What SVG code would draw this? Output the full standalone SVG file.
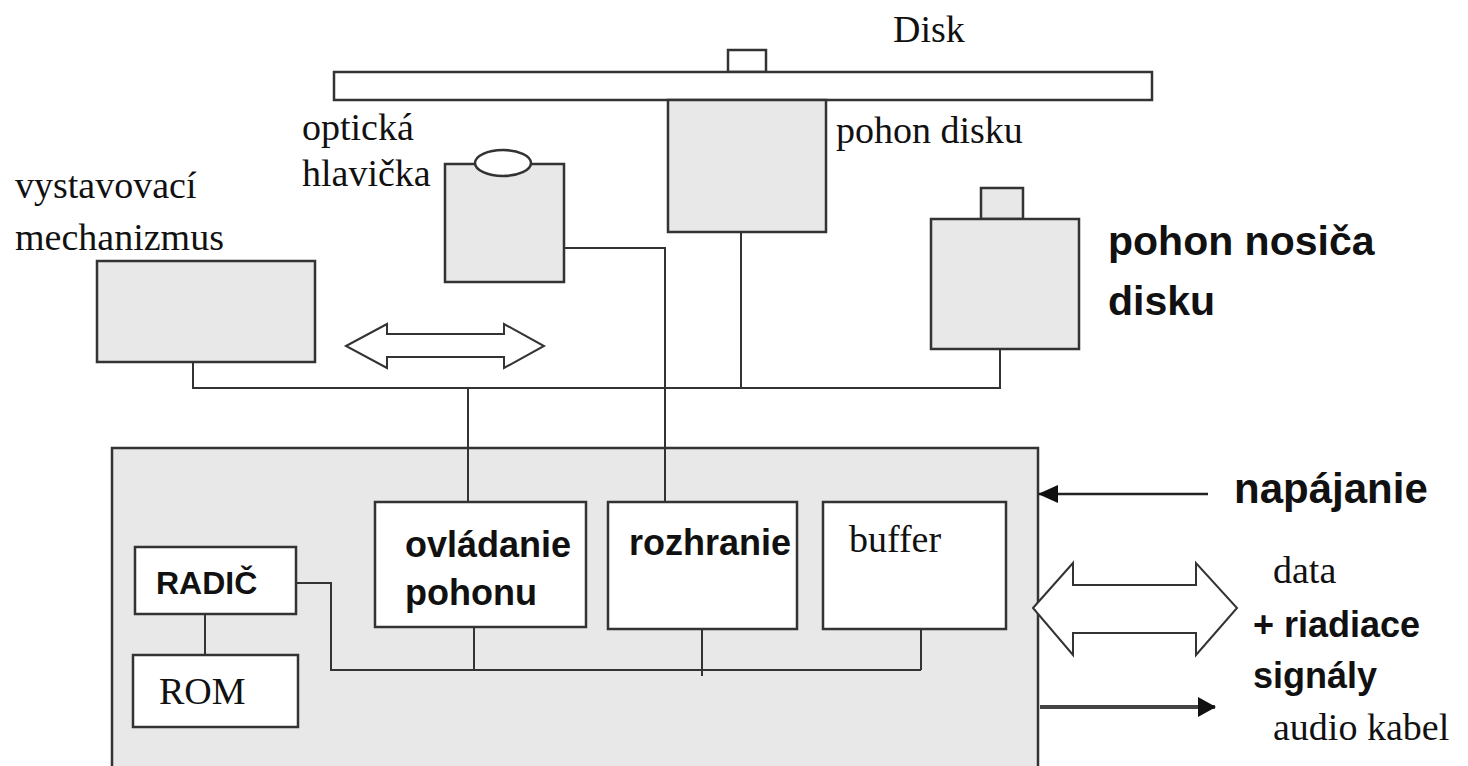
<svg xmlns="http://www.w3.org/2000/svg" width="1468" height="766" viewBox="0 0 1468 766">
<style>
.box{fill:#e8e8e8;stroke:#333;stroke-width:2.5}
.wbox{fill:#fff;stroke:#333;stroke-width:2.5}
.ln{fill:none;stroke:#333;stroke-width:2}
.serif{font-family:"Liberation Serif","Times New Roman",serif;font-size:38px;fill:#111}
.bold{font-family:"Liberation Sans",Arial,sans-serif;font-weight:bold;fill:#111}
</style>
<defs>
<marker id="ah" viewBox="0 0 20 20" refX="19" refY="10" markerWidth="20" markerHeight="20" orient="auto" markerUnits="userSpaceOnUse">
<path d="M0,1 L20,10 L0,19 z" fill="#111"/>
</marker>
<marker id="ah2" viewBox="0 0 18 20" refX="17" refY="10" markerWidth="18" markerHeight="20" orient="auto" markerUnits="userSpaceOnUse">
<path d="M0,0 L18,10 L0,20 z" fill="#111"/>
</marker>
</defs>

<g id="disk">
<rect class="wbox" x="728" y="50" width="38" height="22"/>
<rect class="wbox" x="334" y="72" width="818" height="28"/>
<text class="serif" x="893" y="42">Disk</text>
</g>

<g id="pohon-disku">
<rect class="box" x="668" y="100" width="158" height="132"/>
<text class="serif" x="836" y="143">pohon disku</text>
</g>

<g id="opticka-hlavicka">
<rect class="box" x="445" y="164" width="119" height="118"/>
<ellipse cx="503" cy="163" rx="28" ry="13" fill="#fff" stroke="#333" stroke-width="2.5"/>
<text class="serif" x="302" y="140">optická</text>
<text class="serif" x="302" y="186">hlavička</text>
</g>

<g id="vystavovaci-mechanizmus">
<rect class="box" x="97" y="261" width="218" height="101"/>
<text class="serif" x="15" y="198">vystavovací</text>
<text class="serif" x="15" y="250">mechanizmus</text>
</g>

<g id="pohon-nosica">
<rect class="box" x="981" y="188" width="42" height="31"/>
<rect class="box" x="931" y="219" width="148" height="130"/>
<text class="bold" x="1108" y="255" font-size="41">pohon nosiča</text>
<text class="bold" x="1108" y="315" font-size="41">disku</text>
</g>

<g id="pohyb-sipka">
<path d="M346,346 L387,324 L387,334 L504,334 L504,324 L544,346 L504,368 L504,357 L387,357 L387,368 Z" fill="#fff" stroke="#333" stroke-width="2"/>
</g>

<g id="radic-jednotka">
<rect class="box" x="112" y="448" width="926" height="330"/>
</g>

<g id="ovladanie-pohonu">
<rect class="wbox" x="375" y="502" width="211" height="125"/>
<text class="bold" x="405" y="557" font-size="36">ovládanie</text>
<text class="bold" x="405" y="605" font-size="36">pohonu</text>
</g>

<g id="rozhranie">
<rect class="wbox" x="608" y="502" width="189" height="127"/>
<text class="bold" x="629" y="555" font-size="36">rozhranie</text>
</g>

<g id="buffer">
<rect class="wbox" x="823" y="502" width="183" height="127"/>
<text class="serif" x="849" y="552">buffer</text>
</g>

<g id="radic">
<rect class="wbox" x="135" y="547" width="161" height="67"/>
<text class="bold" x="156" y="594" font-size="32">RADIČ</text>
</g>

<g id="rom">
<rect class="wbox" x="133" y="655" width="165" height="72"/>
<text class="serif" x="159" y="704">ROM</text>
</g>

<g id="data-sipka">
<path d="M1033,608 L1073,563 L1073,585 L1196,585 L1196,563 L1237,608 L1196,655 L1196,633 L1073,633 L1073,655 Z" fill="#fff" stroke="#333" stroke-width="2"/>
<text class="serif" x="1273" y="583">data</text>
<text class="bold" x="1253" y="637" font-size="36">+ riadiace</text>
<text class="bold" x="1253" y="688" font-size="36">signály</text>
</g>

<g id="napajanie">
<text class="bold" x="1234" y="503" font-size="42">napájanie</text>
</g>

<g id="audio">
<text class="serif" x="1273" y="740">audio kabel</text>
</g>

<g id="connectors">
<polyline class="ln" points="193,362 193,388 1001,388"/>
<line class="ln" x1="741" y1="232" x2="741" y2="388"/>
<line class="ln" x1="1000" y1="349" x2="1000" y2="388"/>
<line class="ln" x1="468" y1="388" x2="468" y2="502"/>
<polyline class="ln" points="564,248 665,248 665,502"/>
<polyline class="ln" points="296,583 331,583 331,670 921,670"/>
<line class="ln" x1="474" y1="627" x2="474" y2="670"/>
<line class="ln" x1="702" y1="629" x2="702" y2="676"/>
<line class="ln" x1="921" y1="629" x2="921" y2="670"/>
<line class="ln" x1="205" y1="614" x2="205" y2="655"/>
<line x1="1208" y1="494" x2="1039" y2="494" stroke="#222" stroke-width="2.5" marker-end="url(#ah)"/>
<line x1="1040" y1="707" x2="1215" y2="707" stroke="#444" stroke-width="4" marker-end="url(#ah2)"/>
</g>
</svg>
